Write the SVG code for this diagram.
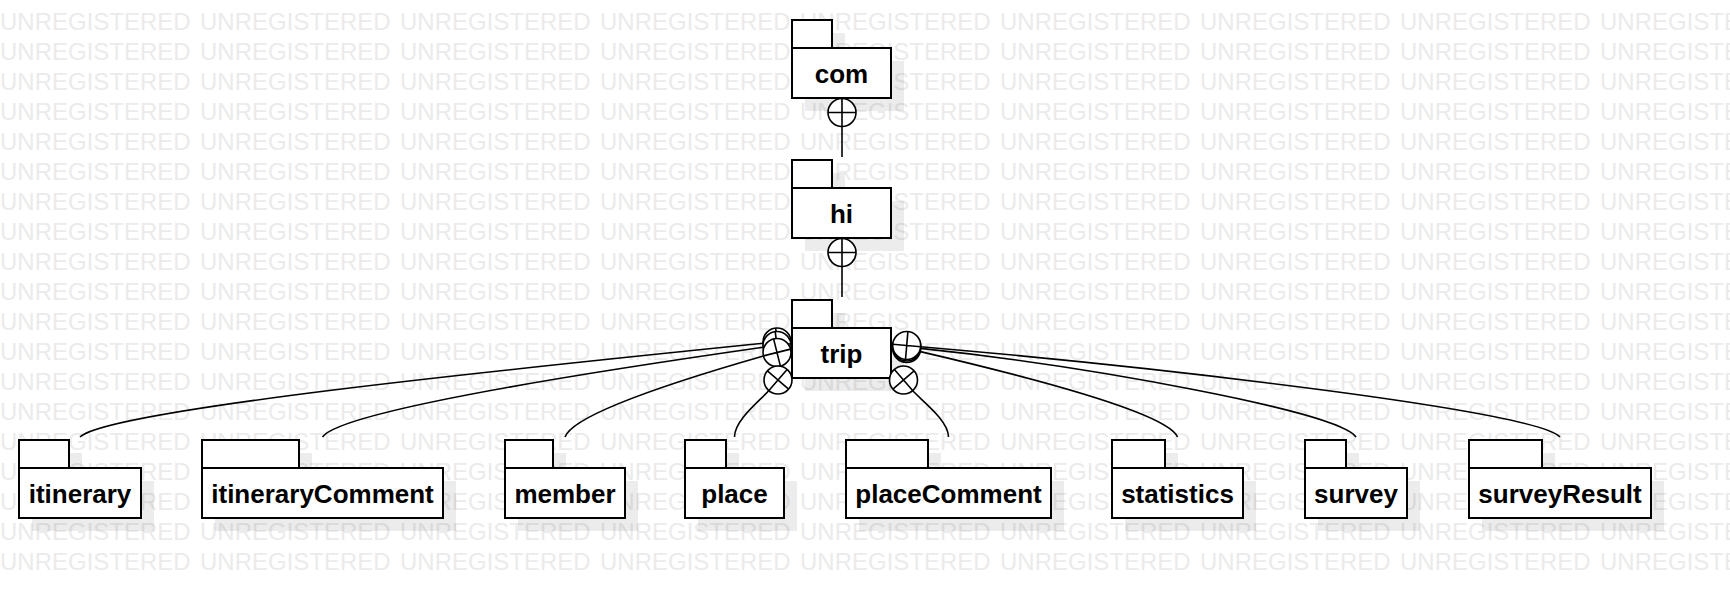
<svg xmlns="http://www.w3.org/2000/svg" width="1730" height="598" viewBox="0 0 1730 598">
<style>
.wm{font-family:"Liberation Sans",Arial,sans-serif;font-size:24px;fill:#ebebeb}
.sh{fill:#000;fill-opacity:0.075;stroke:none}
.box{fill:#fff;stroke:#000;stroke-width:2}
.lbl{font-family:"Liberation Sans",Arial,sans-serif;font-size:26px;font-weight:bold;fill:#000;text-anchor:middle}
.ln{fill:none;stroke:#000;stroke-width:1.6}
.ring{fill:#fff;stroke:#000;stroke-width:1.6}
</style>
<rect width="1730" height="598" fill="#fff"/>
<g id="watermark">
<text class="wm" y="29.5"><tspan x="0">UNREGISTERED</tspan><tspan x="200">UNREGISTERED</tspan><tspan x="400">UNREGISTERED</tspan><tspan x="600">UNREGISTERED</tspan><tspan x="800">UNREGISTERED</tspan><tspan x="1000">UNREGISTERED</tspan><tspan x="1200">UNREGISTERED</tspan><tspan x="1400">UNREGISTERED</tspan><tspan x="1600">UNREGISTERED</tspan></text>
<text class="wm" y="59.5"><tspan x="0">UNREGISTERED</tspan><tspan x="200">UNREGISTERED</tspan><tspan x="400">UNREGISTERED</tspan><tspan x="600">UNREGISTERED</tspan><tspan x="800">UNREGISTERED</tspan><tspan x="1000">UNREGISTERED</tspan><tspan x="1200">UNREGISTERED</tspan><tspan x="1400">UNREGISTERED</tspan><tspan x="1600">UNREGISTERED</tspan></text>
<text class="wm" y="89.5"><tspan x="0">UNREGISTERED</tspan><tspan x="200">UNREGISTERED</tspan><tspan x="400">UNREGISTERED</tspan><tspan x="600">UNREGISTERED</tspan><tspan x="800">UNREGISTERED</tspan><tspan x="1000">UNREGISTERED</tspan><tspan x="1200">UNREGISTERED</tspan><tspan x="1400">UNREGISTERED</tspan><tspan x="1600">UNREGISTERED</tspan></text>
<text class="wm" y="119.5"><tspan x="0">UNREGISTERED</tspan><tspan x="200">UNREGISTERED</tspan><tspan x="400">UNREGISTERED</tspan><tspan x="600">UNREGISTERED</tspan><tspan x="800">UNREGISTERED</tspan><tspan x="1000">UNREGISTERED</tspan><tspan x="1200">UNREGISTERED</tspan><tspan x="1400">UNREGISTERED</tspan><tspan x="1600">UNREGISTERED</tspan></text>
<text class="wm" y="149.5"><tspan x="0">UNREGISTERED</tspan><tspan x="200">UNREGISTERED</tspan><tspan x="400">UNREGISTERED</tspan><tspan x="600">UNREGISTERED</tspan><tspan x="800">UNREGISTERED</tspan><tspan x="1000">UNREGISTERED</tspan><tspan x="1200">UNREGISTERED</tspan><tspan x="1400">UNREGISTERED</tspan><tspan x="1600">UNREGISTERED</tspan></text>
<text class="wm" y="179.5"><tspan x="0">UNREGISTERED</tspan><tspan x="200">UNREGISTERED</tspan><tspan x="400">UNREGISTERED</tspan><tspan x="600">UNREGISTERED</tspan><tspan x="800">UNREGISTERED</tspan><tspan x="1000">UNREGISTERED</tspan><tspan x="1200">UNREGISTERED</tspan><tspan x="1400">UNREGISTERED</tspan><tspan x="1600">UNREGISTERED</tspan></text>
<text class="wm" y="209.5"><tspan x="0">UNREGISTERED</tspan><tspan x="200">UNREGISTERED</tspan><tspan x="400">UNREGISTERED</tspan><tspan x="600">UNREGISTERED</tspan><tspan x="800">UNREGISTERED</tspan><tspan x="1000">UNREGISTERED</tspan><tspan x="1200">UNREGISTERED</tspan><tspan x="1400">UNREGISTERED</tspan><tspan x="1600">UNREGISTERED</tspan></text>
<text class="wm" y="239.5"><tspan x="0">UNREGISTERED</tspan><tspan x="200">UNREGISTERED</tspan><tspan x="400">UNREGISTERED</tspan><tspan x="600">UNREGISTERED</tspan><tspan x="800">UNREGISTERED</tspan><tspan x="1000">UNREGISTERED</tspan><tspan x="1200">UNREGISTERED</tspan><tspan x="1400">UNREGISTERED</tspan><tspan x="1600">UNREGISTERED</tspan></text>
<text class="wm" y="269.5"><tspan x="0">UNREGISTERED</tspan><tspan x="200">UNREGISTERED</tspan><tspan x="400">UNREGISTERED</tspan><tspan x="600">UNREGISTERED</tspan><tspan x="800">UNREGISTERED</tspan><tspan x="1000">UNREGISTERED</tspan><tspan x="1200">UNREGISTERED</tspan><tspan x="1400">UNREGISTERED</tspan><tspan x="1600">UNREGISTERED</tspan></text>
<text class="wm" y="299.5"><tspan x="0">UNREGISTERED</tspan><tspan x="200">UNREGISTERED</tspan><tspan x="400">UNREGISTERED</tspan><tspan x="600">UNREGISTERED</tspan><tspan x="800">UNREGISTERED</tspan><tspan x="1000">UNREGISTERED</tspan><tspan x="1200">UNREGISTERED</tspan><tspan x="1400">UNREGISTERED</tspan><tspan x="1600">UNREGISTERED</tspan></text>
<text class="wm" y="329.5"><tspan x="0">UNREGISTERED</tspan><tspan x="200">UNREGISTERED</tspan><tspan x="400">UNREGISTERED</tspan><tspan x="600">UNREGISTERED</tspan><tspan x="800">UNREGISTERED</tspan><tspan x="1000">UNREGISTERED</tspan><tspan x="1200">UNREGISTERED</tspan><tspan x="1400">UNREGISTERED</tspan><tspan x="1600">UNREGISTERED</tspan></text>
<text class="wm" y="359.5"><tspan x="0">UNREGISTERED</tspan><tspan x="200">UNREGISTERED</tspan><tspan x="400">UNREGISTERED</tspan><tspan x="600">UNREGISTERED</tspan><tspan x="800">UNREGISTERED</tspan><tspan x="1000">UNREGISTERED</tspan><tspan x="1200">UNREGISTERED</tspan><tspan x="1400">UNREGISTERED</tspan><tspan x="1600">UNREGISTERED</tspan></text>
<text class="wm" y="389.5"><tspan x="0">UNREGISTERED</tspan><tspan x="200">UNREGISTERED</tspan><tspan x="400">UNREGISTERED</tspan><tspan x="600">UNREGISTERED</tspan><tspan x="800">UNREGISTERED</tspan><tspan x="1000">UNREGISTERED</tspan><tspan x="1200">UNREGISTERED</tspan><tspan x="1400">UNREGISTERED</tspan><tspan x="1600">UNREGISTERED</tspan></text>
<text class="wm" y="419.5"><tspan x="0">UNREGISTERED</tspan><tspan x="200">UNREGISTERED</tspan><tspan x="400">UNREGISTERED</tspan><tspan x="600">UNREGISTERED</tspan><tspan x="800">UNREGISTERED</tspan><tspan x="1000">UNREGISTERED</tspan><tspan x="1200">UNREGISTERED</tspan><tspan x="1400">UNREGISTERED</tspan><tspan x="1600">UNREGISTERED</tspan></text>
<text class="wm" y="449.5"><tspan x="0">UNREGISTERED</tspan><tspan x="200">UNREGISTERED</tspan><tspan x="400">UNREGISTERED</tspan><tspan x="600">UNREGISTERED</tspan><tspan x="800">UNREGISTERED</tspan><tspan x="1000">UNREGISTERED</tspan><tspan x="1200">UNREGISTERED</tspan><tspan x="1400">UNREGISTERED</tspan><tspan x="1600">UNREGISTERED</tspan></text>
<text class="wm" y="479.5"><tspan x="0">UNREGISTERED</tspan><tspan x="200">UNREGISTERED</tspan><tspan x="400">UNREGISTERED</tspan><tspan x="600">UNREGISTERED</tspan><tspan x="800">UNREGISTERED</tspan><tspan x="1000">UNREGISTERED</tspan><tspan x="1200">UNREGISTERED</tspan><tspan x="1400">UNREGISTERED</tspan><tspan x="1600">UNREGISTERED</tspan></text>
<text class="wm" y="509.5"><tspan x="0">UNREGISTERED</tspan><tspan x="200">UNREGISTERED</tspan><tspan x="400">UNREGISTERED</tspan><tspan x="600">UNREGISTERED</tspan><tspan x="800">UNREGISTERED</tspan><tspan x="1000">UNREGISTERED</tspan><tspan x="1200">UNREGISTERED</tspan><tspan x="1400">UNREGISTERED</tspan><tspan x="1600">UNREGISTERED</tspan></text>
<text class="wm" y="539.5"><tspan x="0">UNREGISTERED</tspan><tspan x="200">UNREGISTERED</tspan><tspan x="400">UNREGISTERED</tspan><tspan x="600">UNREGISTERED</tspan><tspan x="800">UNREGISTERED</tspan><tspan x="1000">UNREGISTERED</tspan><tspan x="1200">UNREGISTERED</tspan><tspan x="1400">UNREGISTERED</tspan><tspan x="1600">UNREGISTERED</tspan></text>
<text class="wm" y="569.5"><tspan x="0">UNREGISTERED</tspan><tspan x="200">UNREGISTERED</tspan><tspan x="400">UNREGISTERED</tspan><tspan x="600">UNREGISTERED</tspan><tspan x="800">UNREGISTERED</tspan><tspan x="1000">UNREGISTERED</tspan><tspan x="1200">UNREGISTERED</tspan><tspan x="1400">UNREGISTERED</tspan><tspan x="1600">UNREGISTERED</tspan></text>
</g>

<g id="com">
<rect class="sh" x="805" y="33" width="40" height="28"/><rect class="sh" x="805" y="61" width="99" height="50"/>
<rect class="box" x="792" y="20" width="40" height="28"/><rect class="box" x="792" y="48" width="99" height="50"/>
<text class="lbl" x="841.5" y="82.5">com</text>
</g>
<g id="hi">
<rect class="sh" x="805" y="173" width="40" height="28"/><rect class="sh" x="805" y="201" width="99" height="50"/>
<rect class="box" x="792" y="160" width="40" height="28"/><rect class="box" x="792" y="188" width="99" height="50"/>
<text class="lbl" x="841.5" y="222.5">hi</text>
</g>
<g id="trip">
<rect class="sh" x="805" y="313" width="40" height="28"/><rect class="sh" x="805" y="341" width="99" height="50"/>
<rect class="box" x="792" y="300" width="40" height="28"/><rect class="box" x="792" y="328" width="99" height="50"/>
<text class="lbl" x="841.5" y="362.5">trip</text>
</g>
<g id="itinerary">
<rect class="sh" x="32" y="453" width="50" height="28"/><rect class="sh" x="32" y="481" width="122" height="50"/>
<rect class="box" x="19" y="440" width="50" height="28"/><rect class="box" x="19" y="468" width="122" height="50"/>
<text class="lbl" x="80" y="502.5">itinerary</text>
</g>
<g id="itineraryComment">
<rect class="sh" x="215" y="453" width="97" height="28"/><rect class="sh" x="215" y="481" width="241" height="50"/>
<rect class="box" x="202" y="440" width="97" height="28"/><rect class="box" x="202" y="468" width="241" height="50"/>
<text class="lbl" x="322.5" y="502.5">itineraryComment</text>
</g>
<g id="member">
<rect class="sh" x="518" y="453" width="48" height="28"/><rect class="sh" x="518" y="481" width="120" height="50"/>
<rect class="box" x="505" y="440" width="48" height="28"/><rect class="box" x="505" y="468" width="120" height="50"/>
<text class="lbl" x="565" y="502.5">member</text>
</g>
<g id="place">
<rect class="sh" x="698" y="453" width="41" height="28"/><rect class="sh" x="698" y="481" width="99" height="50"/>
<rect class="box" x="685" y="440" width="41" height="28"/><rect class="box" x="685" y="468" width="99" height="50"/>
<text class="lbl" x="734.5" y="502.5">place</text>
</g>
<g id="placeComment">
<rect class="sh" x="859" y="453" width="82" height="28"/><rect class="sh" x="859" y="481" width="205" height="50"/>
<rect class="box" x="846" y="440" width="82" height="28"/><rect class="box" x="846" y="468" width="205" height="50"/>
<text class="lbl" x="948.5" y="502.5">placeComment</text>
</g>
<g id="statistics">
<rect class="sh" x="1125" y="453" width="53" height="28"/><rect class="sh" x="1125" y="481" width="131" height="50"/>
<rect class="box" x="1112" y="440" width="53" height="28"/><rect class="box" x="1112" y="468" width="131" height="50"/>
<text class="lbl" x="1177.5" y="502.5">statistics</text>
</g>
<g id="survey">
<rect class="sh" x="1318" y="453" width="41" height="28"/><rect class="sh" x="1318" y="481" width="102" height="50"/>
<rect class="box" x="1305" y="440" width="41" height="28"/><rect class="box" x="1305" y="468" width="102" height="50"/>
<text class="lbl" x="1356" y="502.5">survey</text>
</g>
<g id="surveyResult">
<rect class="sh" x="1482" y="453" width="73" height="28"/><rect class="sh" x="1482" y="481" width="182" height="50"/>
<rect class="box" x="1469" y="440" width="73" height="28"/><rect class="box" x="1469" y="468" width="182" height="50"/>
<text class="lbl" x="1560" y="502.5">surveyResult</text>
</g>

<g id="connectors">
<g id="c-com-hi"><path class="ln" d="M842,126.5 L842,157"/><circle class="ring" cx="842" cy="112.5" r="14"/><path class="ln" d="M828,112.5 L856,112.5 M842,98.5 L842,126.5"/></g>
<g id="c-hi-trip"><path class="ln" d="M842,266.5 L842,297"/><circle class="ring" cx="842" cy="252.5" r="14"/><path class="ln" d="M828,252.5 L856,252.5 M842,238.5 L842,266.5"/></g>
<g id="c-trip-itinerary"><path class="ln" d="M763.1,343.3 C500,370 108,410 80,437"/><circle class="ring" cx="777" cy="342" r="14"/><path class="ln" d="M763.1,343.3 L790.9,340.7 M778.3,355.9 L775.7,328.1"/></g>
<g id="c-trip-itineraryComment"><path class="ln" d="M763.1,347.3 C593.8,371.5 340.8,411 322.5,437"/><circle class="ring" cx="777" cy="345.5" r="14"/><path class="ln" d="M763.1,347.3 L790.9,343.7 M778.8,359.4 L775.2,331.6"/></g>
<g id="c-trip-member"><path class="ln" d="M763.4,355.9 C687,377.8 572.9,413.5 565,437"/><circle class="ring" cx="777" cy="352.5" r="14"/><path class="ln" d="M763.4,355.9 L790.6,349.1 M780.4,366.1 L773.6,338.9"/></g>
<g id="c-trip-place"><path class="ln" d="M768.9,390.6 C761.1,399.7 734.5,420 734.5,437"/><circle class="ring" cx="778" cy="380" r="14"/><path class="ln" d="M768.9,390.6 L787.1,369.4 M788.6,389.1 L767.4,370.9"/></g>
<g id="c-trip-placeComment"><path class="ln" d="M912.6,390.6 C920.4,399.7 948.5,420 948.5,437"/><circle class="ring" cx="903.5" cy="380" r="14"/><path class="ln" d="M894.4,369.4 L912.6,390.6 M892.9,389.1 L914.1,370.9"/></g>
<g id="c-trip-statistics"><path class="ln" d="M920.4,351.6 C1019.4,374.7 1167.2,412.2 1177.5,437"/><circle class="ring" cx="906.7" cy="348.5" r="14"/><path class="ln" d="M893,345.4 L920.4,351.6 M903.6,362.2 L909.8,334.9"/></g>
<g id="c-trip-survey"><path class="ln" d="M920.6,348.4 C1088,366 1338.6,411.3 1356,437"/><circle class="ring" cx="906.7" cy="347" r="14"/><path class="ln" d="M892.8,345.6 L920.6,348.4 M905.3,360.9 L908.1,333.1"/></g>
<g id="c-trip-surveyResult"><path class="ln" d="M920.7,346.7 C1166.8,368 1534.4,410.8 1560,437"/><circle class="ring" cx="906.7" cy="345.5" r="14"/><path class="ln" d="M892.7,344.3 L920.7,346.7 M905.5,359.5 L907.9,331.6"/></g>
</g>
</svg>
